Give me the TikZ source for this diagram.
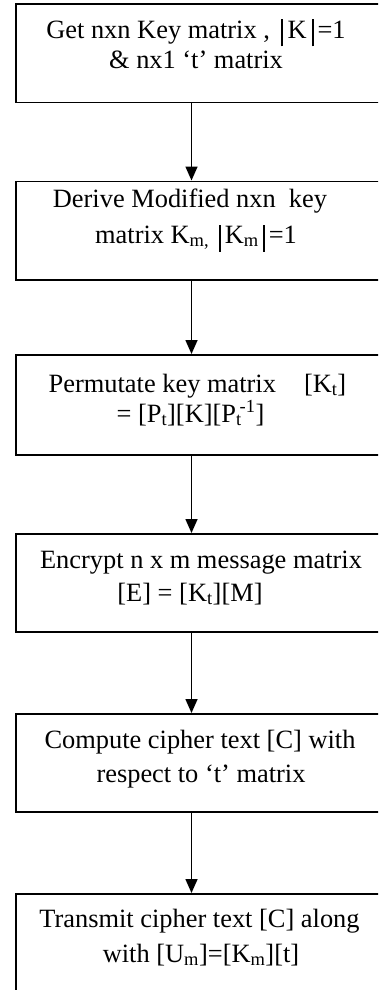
\documentclass[tikz,border=0pt]{standalone}
\usepackage{fontspec}
\setmainfont{Liberation Serif}
\usetikzlibrary{arrows.meta}
\newcommand{\vbar}{\rule[-8.5pt]{2pt}{27pt}}
\begin{document}
\begin{tikzpicture}[x=1pt,y=-1pt,
  stepbox/.style={draw, line width=1.6pt, inner sep=0pt, anchor=north west,
    minimum width=372pt},
  txt/.style={inner sep=0pt, anchor=base, font=\fontsize{26.4}{30}\selectfont},
  arr/.style={line width=1.6pt, -{Triangle[length=14pt,width=12pt]}}]
\useasboundingbox (0,0) rectangle (378,990);
\clip (0,0) rectangle (378,990);
\node[stepbox, minimum height=98pt] (b1) at (15,3.5) {};
\node[stepbox, minimum height=98.5pt] (b2) at (15,180.5) {};
\node[stepbox, minimum height=100pt] (b3) at (15,354) {};
\node[stepbox, minimum height=98pt] (b4) at (15,533) {};
\node[stepbox, minimum height=98pt] (b5) at (15,713) {};
\node[stepbox, minimum height=120pt] (b6) at (15,893) {};
\coordinate (ax) at (191.5,0);
\draw[arr] (b1.south -| ax) -- (b2.north -| ax);
\draw[arr] (b2.south -| ax) -- (b3.north -| ax);
\draw[arr] (b3.south -| ax) -- (b4.north -| ax);
\draw[arr] (b4.south -| ax) -- (b5.north -| ax);
\draw[arr] (b5.south -| ax) -- (b6.north -| ax);
\node[txt] (t1a) at (196,38) {Get nxn Key matrix , \kern4pt\vbar\kern5pt K\kern5pt\vbar\kern4pt=1};
\node[txt] (t1b) at (196,69) {\& nx1 ‘t’ matrix};
\node[txt] (t2a) at (190,207) {Derive Modified nxn\ \ key};
\node[txt] (t2b) at (196,243) {matrix K\textsubscript{m,} \kern3pt\vbar\kern4pt K\textsubscript{m}\kern4pt\vbar\kern4pt=1};
\node[txt] (t3a) at (197.5,392) {Permutate key matrix\hspace{28pt}[K\textsubscript{t}]};
\node[txt] (t3b) at (190.5,422) {= [P\textsubscript{t}][K][P\textsubscript{t}\kern-2pt\textsuperscript{-1}]};
\node[txt] (t4a) at (201,568) {Encrypt n x m message matrix};
\node[txt] (t4b) at (190,601) {[E] = [K\textsubscript{t}][M]};
\node[txt] (t5a) at (200,748) {Compute cipher text [C] with};
\node[txt] (t5b) at (201,782) {respect to ‘t’ matrix};
\node[txt] (t6a) at (199.5,927) {Transmit cipher text [C] along};
\node[txt] (t6b) at (201,962) {with [U\textsubscript{m}]=[K\textsubscript{m}][t]};
\end{tikzpicture}
\end{document}
